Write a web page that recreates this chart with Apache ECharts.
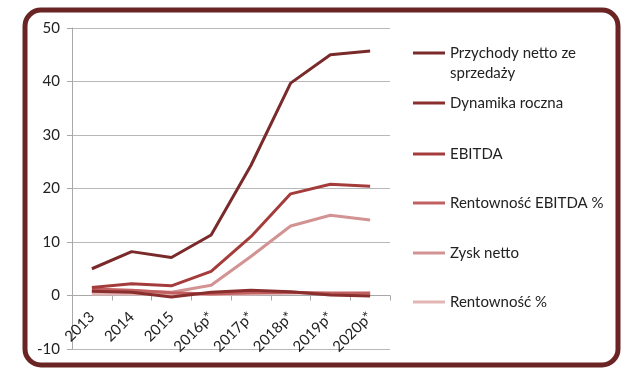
<!DOCTYPE html>
<html><head><meta charset="utf-8">
<script src="https://cdn.jsdelivr.net/npm/echarts@6/dist/echarts.min.js"></script>
<style>html,body{margin:0;padding:0;background:#fff}#c{width:638px;height:384px}</style>
</head><body><div id="c"></div>
<script>
const categories = ['2013','2014','2015','2016p*','2017p*','2018p*','2019p*','2020p*'];
const przychody = [5.0, 8.2, 7.1, 11.3, 24.3, 39.7, 45.0, 45.7];
const dynamika = [0.8, 0.6, -0.3, 0.6, 1.0, 0.7, 0.1, -0.1];
const ebitda = [1.5, 2.2, 1.8, 4.5, 11.0, 19.0, 20.8, 20.4];
const rentEbitda = [1.2, 1.0, 0.5, 0.3, 0.5, 0.6, 0.4, 0.4];
const zysk = [0.8, 0.9, 0.6, 1.9, 7.3, 13.0, 15.0, 14.1];
const rent = [0.3, 0.3, 0.2, 0.2, 0.3, 0.4, 0.5, 0.5];
const yTicks = [-10, 0, 10, 20, 30, 40, 50];

const names = ['Przychody netto ze sprzedaży','Dynamika roczna','EBITDA','Rentowność EBITDA %','Zysk netto','Rentowność %'];
const colors = ['#7a2a2a','#8b2e2e','#a53c3c','#c06060','#d39393','#e3b5b5'];
const datasets = [przychody, dynamika, ebitda, rentEbitda, zysk, rent];
const legendCenters = [53, 103, 154, 203, 253, 302];
const font = 'Lato, "Open Sans", sans-serif';

const gridTop = 28, gridBottom = 35, H = 384;
const gridH = H - gridTop - gridBottom;
const zeroOffset = -gridH * (0 - yTicks[0]) / (yTicks[yTicks.length-1] - yTicks[0]);

const chart = echarts.init(document.getElementById('c'), null, {renderer:'canvas'});
const legends = names.map((n, i) => ({
  data: [n],
  left: 413,
  top: legendCenters[i] - (i === 0 ? 30 : 10),
  padding: 0,
  orient: 'vertical',
  icon: 'rect',
  itemWidth: 32,
  itemHeight: 3,
  selectedMode: false,
  formatter: i === 0 ? ' \nPrzychody netto ze\nsprzedaży' : '{name}',
  textStyle: {fontFamily: font, fontSize: 15, color: '#222', lineHeight: 20}
}));
chart.setOption({
  animation: false,
  backgroundColor: '#fff',
  graphic: [{
    type: 'rect', z: -10, silent: true,
    shape: {x: 25, y: 10, width: 593, height: 355, r: 16},
    style: {fill: '#fff', stroke: '#6b2424', lineWidth: 5}
  }],
  legend: legends,
  grid: {left: 72, right: 248, top: gridTop, bottom: gridBottom, outerBoundsMode: 'none', containLabel: false},
  xAxis: {
    type: 'category', data: categories, boundaryGap: true, position: 'bottom', offset: zeroOffset,
    axisLine: {onZero: false, lineStyle: {color: '#a8a8a8', width: 1}},
    axisTick: {show: true, length: 5, lineStyle: {color: '#a8a8a8'}},
    axisLabel: {rotate: 45, fontFamily: font, fontSize: 15, color: '#222', margin: 19},
    splitLine: {show: false}
  },
  yAxis: {
    type: 'value', min: yTicks[0], max: yTicks[yTicks.length-1], interval: 10,
    axisLine: {show: true, onZero: false, lineStyle: {color: '#a8a8a8'}},
    axisTick: {show: true, length: 5, inside: false, lineStyle: {color: '#a8a8a8'}},
    axisLabel: {fontFamily: font, fontSize: 15, color: '#222', margin: 12},
    splitLine: {show: true, lineStyle: {color: '#b8b8b8', width: 1}}
  },
  series: names.map((n, i) => ({
    name: n, type: 'line', data: datasets[i], symbol: 'none',
    lineStyle: {color: colors[i], width: 3}, itemStyle: {color: colors[i]},
    z: 10 - i
  }))
});
</script></body></html>
